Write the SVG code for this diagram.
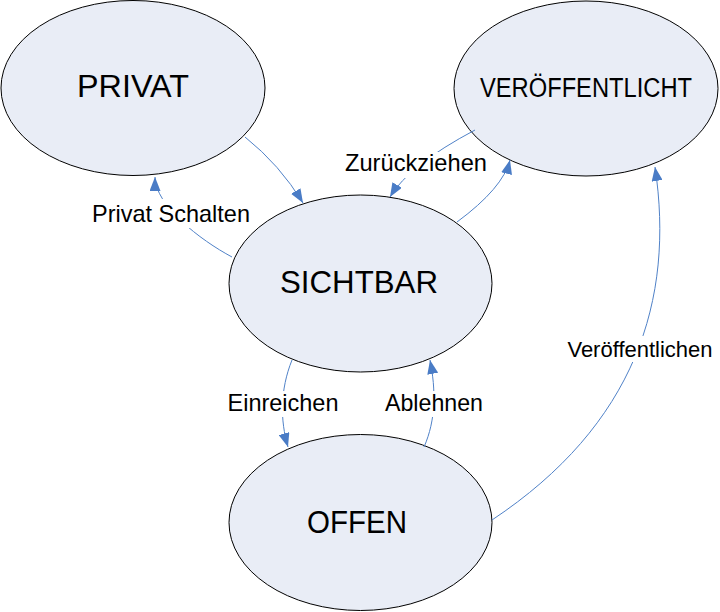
<svg xmlns="http://www.w3.org/2000/svg" width="720" height="612" viewBox="0 0 720 612">
  <style>
    .node { fill: #E9EDF6; stroke: #000000; stroke-width: 1; }
    .nlabel { font-family: "Liberation Sans", Arial, sans-serif; font-size: 31px; fill: #000000; text-anchor: middle; }
    .elabel { font-family: "Liberation Sans", Arial, sans-serif; font-size: 24px; fill: #000000; text-anchor: middle; }
    .edge { fill: none; stroke: #4F81C7; stroke-width: 1; marker-end: url(#arr); }
  </style>
  <defs>
    <marker id="arr" viewBox="0 0 14 11" refX="14" refY="5.5" markerWidth="14" markerHeight="11" markerUnits="userSpaceOnUse" orient="auto">
      <path d="M0,0 L14,5.5 L0,11 z" fill="#4A7CC6"/>
    </marker>
    <mask id="gaps" maskUnits="userSpaceOnUse" x="0" y="0" width="720" height="612">
      <rect x="0" y="0" width="720" height="612" fill="#ffffff"/>
      <rect x="88" y="199" width="166" height="29" fill="#000000"/>
      <rect x="340" y="152" width="150" height="26" fill="#000000"/>
      <rect x="563" y="336" width="157" height="26" fill="#000000"/>
      <rect x="224" y="391" width="118" height="26" fill="#000000"/>
      <rect x="382" y="391" width="105" height="26" fill="#000000"/>
    </mask>
  </defs>
  <rect x="0" y="0" width="720" height="612" fill="#ffffff"/>

  <g id="node-privat">
    <ellipse class="node" cx="133" cy="88" rx="132" ry="87.5"/>
    <text class="nlabel" x="133" y="97" textLength="112" lengthAdjust="spacingAndGlyphs">PRIVAT</text>
  </g>
  <g id="node-veroeffentlicht">
    <ellipse class="node" cx="586" cy="88.5" rx="132" ry="87.5"/>
    <text class="nlabel" x="586" y="97" style="font-size:27px" textLength="212" lengthAdjust="spacingAndGlyphs">VERÖFFENTLICHT</text>
  </g>
  <g id="node-sichtbar">
    <ellipse class="node" cx="360.5" cy="283.5" rx="131.5" ry="88.5"/>
    <text class="nlabel" x="359" y="293" textLength="158" lengthAdjust="spacingAndGlyphs">SICHTBAR</text>
  </g>
  <g id="node-offen">
    <ellipse class="node" cx="360.5" cy="522.5" rx="131.5" ry="88"/>
    <text class="nlabel" x="357" y="533" textLength="100" lengthAdjust="spacingAndGlyphs">OFFEN</text>
  </g>

  <g id="connectors" mask="url(#gaps)">
    <path class="edge" d="M245,137 Q280,165 303,203"/>
    <path class="edge" d="M232,257 C200,240 155,205 155,177"/>
    <path class="edge" d="M475,130 Q409,165 390,197"/>
    <path class="edge" d="M457,222 Q503,188 510,160"/>
    <path class="edge" d="M492,520 C635,425 675,300 655,167"/>
    <path class="edge" d="M292,360 C280,390 280,420 288,447"/>
    <path class="edge" d="M424,447 C436,420 436,390 430,360"/>
  </g>

  <g id="edge-labels">
    <text class="elabel" x="171" y="222" textLength="158" lengthAdjust="spacingAndGlyphs">Privat Schalten</text>
    <text class="elabel" x="416" y="171" textLength="142" lengthAdjust="spacingAndGlyphs">Zurückziehen</text>
    <text class="elabel" x="640" y="357" style="font-size:22px">Veröffentlichen</text>
    <text class="elabel" x="283" y="411" textLength="111" lengthAdjust="spacingAndGlyphs">Einreichen</text>
    <text class="elabel" x="434" y="411" textLength="98" lengthAdjust="spacingAndGlyphs">Ablehnen</text>
  </g>
</svg>
